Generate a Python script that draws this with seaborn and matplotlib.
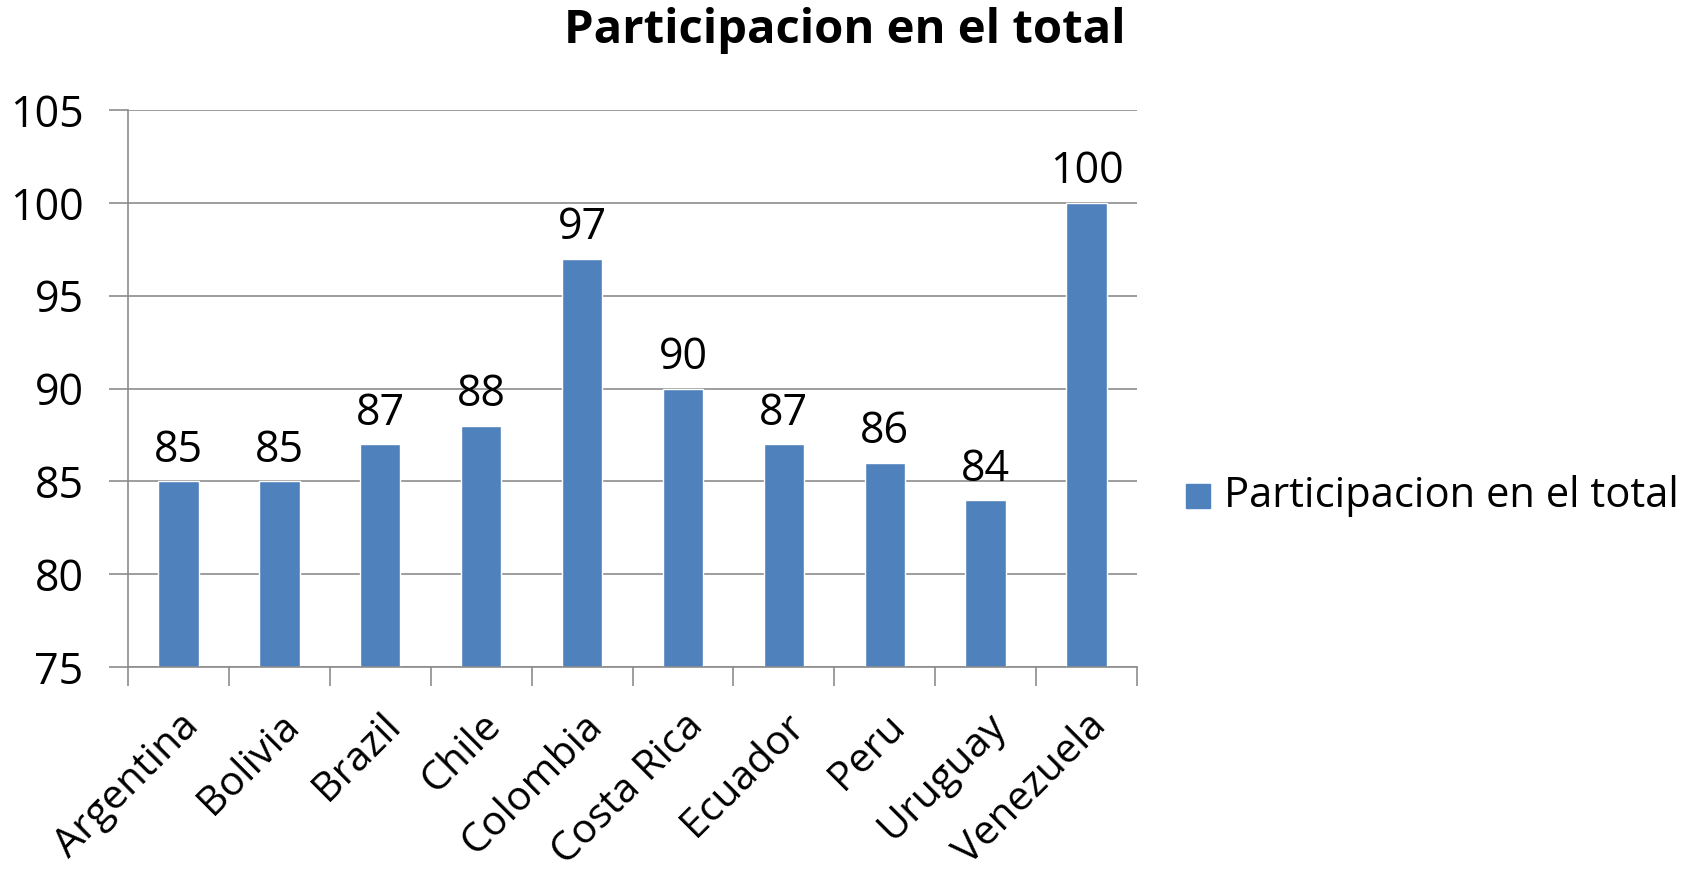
import matplotlib
matplotlib.use("Agg")
import matplotlib.pyplot as plt
import seaborn as sns
import pandas as pd

# datos del grafico
paises = ["Argentina", "Bolivia", "Brazil", "Chile", "Colombia",
          "Costa Rica", "Ecuador", "Peru", "Uruguay", "Venezuela"]
valores = [85, 85, 87, 88, 97, 90, 87, 86, 84, 100]
serie = "Participacion en el total"

sns.set_theme(style="white")
plt.rcParams["font.family"] = ["Open Sans", "DejaVu Sans"]
plt.rcParams["text.color"] = "black"
plt.rcParams["xtick.color"] = "#8c8c8c"
plt.rcParams["ytick.color"] = "#8c8c8c"
plt.rcParams["xtick.labelcolor"] = "black"
plt.rcParams["ytick.labelcolor"] = "black"
plt.rcParams["xtick.bottom"] = True
plt.rcParams["ytick.left"] = True

df = pd.DataFrame({"pais": paises, "valor": valores, "serie": serie})

fig = plt.figure(figsize=(17.02, 8.82), dpi=100)
ax = fig.add_axes([128 / 1702, 1 - 667 / 882, (1137 - 128) / 1702, (667 - 110) / 882])

color = "#4F81BD"
sns.barplot(data=df, x="pais", y="valor", hue="serie", palette=[color],
            width=0.4, ax=ax, legend=False, saturation=1)

ax.set_ylim(75, 105)
ax.set_xlim(-0.5, len(paises) - 0.5)
ax.set_yticks(range(75, 106, 5))
ax.yaxis.grid(True, color="#8c8c8c", linewidth=1.2)
ax.set_axisbelow(True)
for s in ["top", "right"]:
    ax.spines[s].set_visible(False)
for s in ["left", "bottom"]:
    ax.spines[s].set_color("#8c8c8c")
    ax.spines[s].set_linewidth(1.2)

# ticks en los limites de categoria
ax.set_xticks([i - 0.5 for i in range(len(paises) + 1)], minor=False)
ax.set_xticklabels([])
ax.set_xticks(range(len(paises)), minor=True)
ax.set_xticklabels(paises, minor=True, rotation=45, ha="right",
                   rotation_mode="anchor", fontsize=29.5)
ax.tick_params(axis="x", which="major", length=14, width=1.2, direction="out")
ax.tick_params(axis="x", which="minor", length=0, pad=28)
ax.tick_params(axis="y", length=14, width=1.2, labelsize=31, pad=18)
ax.set_xlabel("")
ax.set_ylabel("")

for i, v in enumerate(valores):
    ax.text(i, v + 0.45, str(v), ha="center", va="bottom", fontsize=31)

fig.text(845 / 1702, 1 - 30 / 882, serie, ha="center", va="center",
         fontsize=34, fontweight="bold")

# leyenda
fig.patches.append(plt.Rectangle((1186 / 1702, 1 - 508 / 882), 24 / 1702, 24 / 882,
                                 transform=fig.transFigure, color=color))
fig.text(1224 / 1702, 1 - 496 / 882, serie, ha="left", va="center", fontsize=30)

fig.savefig("out.png", dpi=100)
